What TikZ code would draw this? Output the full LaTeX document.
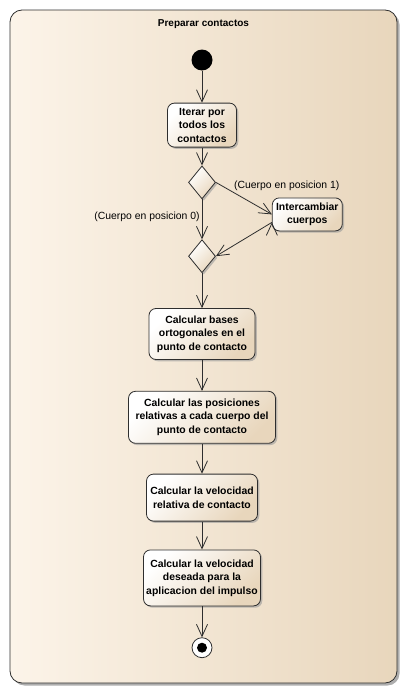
\documentclass[tikz,border=0pt]{standalone}
\usepackage{fontspec}
\setmainfont{Liberation Sans}
\usepackage{tikz}
\usetikzlibrary{arrows.meta,positioning,shapes.geometric,shadows}
\definecolor{crema}{HTML}{FCF4E9}
\definecolor{tostado}{HTML}{E8D6BC}
\definecolor{borde}{HTML}{2E2E2E}
\tikzset{
    %Define standard arrow tip
    >={Straight Barb[length=12pt,width=11pt]},
    %Define style for activities
    actividad/.style={
           rectangle,
           rounded corners=7pt,
           draw=borde, line width=0.8pt,
           font=\bfseries\fontsize{10.4}{13.5}\selectfont,
           align=center,
           inner sep=2pt,
           top color=white, bottom color=tostado, shading angle=45,
           drop shadow={shadow xshift=1.8pt, shadow yshift=-1.8pt, fill=black!40, opacity=0.6}},
    %Define style for decisions
    decision/.style={
           diamond,
           aspect=0.82,
           draw=borde, line width=0.8pt,
           minimum width=27pt,
           minimum height=33pt,
           inner sep=0pt,
           top color=white, bottom color=tostado, shading angle=45,
           drop shadow={shadow xshift=1.8pt, shadow yshift=-1.8pt, fill=black!40, opacity=0.6}},
    %Define style for start and end
    inicio/.style={
           circle,
           fill=black,
           minimum size=21pt,
           inner sep=0pt},
    fin/.style={
           circle,
           draw=borde, line width=0.8pt,
           fill=white,
           minimum size=20pt,
           inner sep=0pt,
           path picture={\fill[black] (path picture bounding box.center) circle (5pt);}},
    %Define style for the frame
    marco/.style={
           rounded corners=12pt,
           draw=borde, line width=0.8pt,
           left color=crema, right color=tostado,
           drop shadow={shadow xshift=2.5pt, shadow yshift=-2.5pt, fill=black!45, opacity=0.7}},
    % Define arrow style
    flecha/.style={
           ->,
           draw=borde,
           line width=0.8pt}
}
\begin{document}
\begin{tikzpicture}[auto]
\useasboundingbox (0,0) rectangle (407pt,-696pt);
\path[marco] (10pt,-10pt) rectangle (397pt,-683pt);
\node[font=\bfseries\fontsize{10}{12}\selectfont] (titulo) at (203.5pt,-24pt) {Preparar contactos};
\node[inicio] (inicio) at (202pt,-60pt) {};
\node[actividad, minimum width=69pt, minimum height=44pt, below=32pt of inicio] (iterar) {Iterar por\\todos los\\contactos};
\node[decision, below=18pt of iterar] (d1) {};
\node[decision, below=40pt of d1] (d2) {};
\node[actividad, minimum width=70pt, minimum height=33pt, right=56pt of d1, yshift=-32pt] (inter) {Intercambiar\\cuerpos};
\node[actividad, minimum width=106pt, minimum height=51pt, below=35pt of d2] (bases) {Calcular bases\\ortogonales en el\\punto de contacto};
\node[actividad, minimum width=147pt, minimum height=52pt, below=31pt of bases] (posiciones) {Calcular las posiciones\\relativas a cada cuerpo del\\punto de contacto};
\node[actividad, minimum width=111pt, minimum height=47pt, below=30pt of posiciones] (velrel) {Calcular la velocidad\\relativa de contacto};
\node[actividad, minimum width=117pt, minimum height=56pt, below=28pt of velrel] (deseada) {Calcular la velocidad\\deseada para la\\aplicacion del impulso};
\node[fin, below=31pt of deseada] (fin) {};
 \path[flecha, every node/.style={font=\fontsize{10.4}{12}\selectfont, inner sep=2pt}]
    (inicio) edge (iterar)
    (iterar) edge (d1)
    (d1) edge node[pos=0.43, left] {(Cuerpo en posicion 0)} (d2)
    (d1.east) edge node[pos=0.3, anchor=south west, inner sep=1pt] {(Cuerpo en posicion 1)} (inter.west)
    ([yshift=-8pt]inter.west) edge (d2.east)
    (d2) edge (bases)
    (bases) edge (posiciones)
    (posiciones) edge (velrel)
    (velrel) edge (deseada)
    (deseada) edge (fin);
\end{tikzpicture}
\end{document}
